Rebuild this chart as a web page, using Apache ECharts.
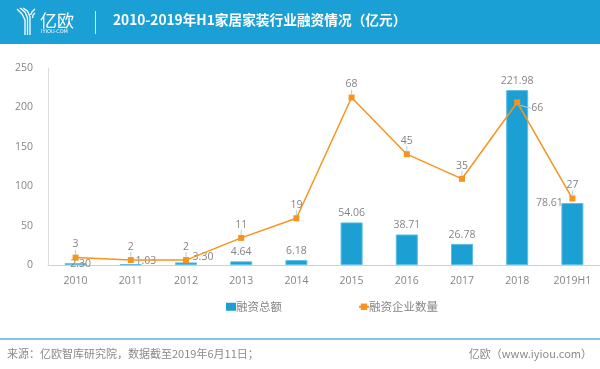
<!DOCTYPE html>
<html>
<head>
<meta charset="utf-8">
<script src="https://cdn.jsdelivr.net/npm/echarts@6/dist/echarts.min.js"></script>
<style>html,body{margin:0;padding:0;background:#fff;}#c{width:600px;height:369px;}</style>
</head>
<body>
<div id="c"></div>
<script>
const categories = ['2010','2011','2012','2013','2014','2015','2016','2017','2018','2019H1'];
const amounts = [2.30, 1.03, 3.30, 4.64, 6.18, 54.06, 38.71, 26.78, 221.98, 78.61];
const counts = [3, 2, 2, 11, 19, 68, 45, 35, 66, 27];
const seriesNames = ['融资总额', '融资企业数量'];
const titleText = '2010-2019年H1家居家装行业融资情况（亿元）';
const sourceText = '来源：亿欧智库研究院，数据截至2019年6月11日；';
const brandText = '亿欧（www.iyiou.com）';

const FONT = "'Open Sans','Noto Sans CJK SC',sans-serif";
const CJK = "'Noto Sans CJK SC',sans-serif";
const GREY = '#858585';

// label placement tweaks (style only)
const barLabelTweak = {0: [5, 10], 1: [15, 6], 2: [17, 4], 9: [-23, 9]};

const barData = amounts.map((v, i) => {
  const t = barLabelTweak[i];
  return t ? {value: v, label: {offset: t}} : v;
});

const chart = echarts.init(document.getElementById('c'));
chart.setOption({
  animation: false,
  textStyle: {fontFamily: FONT},
  grid: {left: 48, right: 0, top: 68, bottom: 104, containLabel: false},
  legend: {
    left: 221, top: 296,
    itemGap: 76, itemWidth: 10, itemHeight: 8,
    textStyle: {color: GREY, fontSize: 11.5, fontFamily: CJK, padding: [0, 0, 0, -5]},
    data: [
      {name: seriesNames[0], icon: 'rect', itemStyle: {borderWidth: 0}},
      {name: seriesNames[1]}
    ]
  },
  xAxis: {
    type: 'category', data: categories,
    axisLine: {lineStyle: {color: '#d0d0d0', width: 1}},
    axisTick: {show: false},
    axisLabel: {color: GREY, fontSize: 10.5, margin: 11}
  },
  yAxis: [
    {
      type: 'value', min: 0, max: 250, interval: 50,
      axisLine: {show: true, lineStyle: {color: '#dcdcdc'}},
      axisTick: {show: false},
      splitLine: {show: false},
      axisLabel: {color: GREY, fontSize: 10.5, margin: 15}
    },
    {
      type: 'value', min: 0, max: 80, show: false, splitLine: {show: false}
    }
  ],
  series: [
    {
      name: seriesNames[0], type: 'bar', data: barData, barWidth: 22,
      itemStyle: {color: '#1c9fd3', borderColor: '#5cbde8', borderWidth: 1},
      label: {show: true, position: 'top', distance: 4, color: GREY, fontSize: 10.5,
        formatter: p => Number(p.value).toFixed(2)}
    },
    {
      name: seriesNames[1], type: 'line', yAxisIndex: 1, data: counts,
      symbol: 'rect', symbolSize: 6,
      lineStyle: {color: '#f7941e', width: 1.5},
      itemStyle: {color: '#f7941e'},
      label: {show: true, position: 'top', distance: 5, color: GREY, fontSize: 10.5},
      labelLine: {show: true, lineStyle: {color: '#a9cfe3', width: 1}},
      labelLayout: p => p.dataIndex === 8 ? {dx: 20, dy: 19} : {},
      z: 3
    }
  ],
  graphic: [
    {type: 'rect', left: 0, top: 0, shape: {width: 600, height: 44}, style: {fill: '#1ba0d6'}, z: -1},
    // logo Y mark
    {type: 'polyline', shape: {points: [[17, 9], [22, 14], [25, 20], [25, 35]]}, style: {stroke: '#fff', lineWidth: 1.3, fill: null}},
    {type: 'polyline', shape: {points: [[20, 8], [25, 12], [27.5, 18], [27.5, 35]]}, style: {stroke: '#fff', lineWidth: 1.3, fill: null}},
    {type: 'polyline', shape: {points: [[23, 8], [27.5, 11], [30, 17], [30, 35]]}, style: {stroke: '#fff', lineWidth: 1.3, fill: null}},
    {type: 'polyline', shape: {points: [[35, 9], [32, 12], [30.5, 15]]}, style: {stroke: '#fff', lineWidth: 1.3, fill: null}},
    {type: 'polyline', shape: {points: [[35, 13], [33, 15], [32.5, 18]]}, style: {stroke: '#fff', lineWidth: 1.3, fill: null}},
    {type: 'text', left: 40, top: 12, style: {text: '亿欧', fill: '#fff', font: "17px 'Noto Sans CJK SC'"}},
    {type: 'text', left: 41, top: 29, style: {text: 'IYIOU·COM', fill: '#fff', font: "5px 'DejaVu Sans'"}},
    {type: 'rect', left: 95, top: 11, shape: {width: 1, height: 23}, style: {fill: 'rgba(255,255,255,0.8)'}},
    {type: 'text', left: 113, top: 13, style: {text: titleText, fill: '#fff', font: "bold 13.7px 'Noto Sans CJK SC'"}},
    // footer
    {type: 'rect', left: 0, top: 338, shape: {width: 600, height: 2}, style: {fill: '#80c6e6'}},
    {type: 'text', left: 7, top: 348, style: {text: sourceText, fill: '#8a8a8a', font: "11px 'Noto Sans CJK SC'"}},
    {type: 'text', right: 8, top: 348, style: {text: brandText, fill: '#8a8a8a', font: "11px 'Noto Sans CJK SC'"}}
  ]
});
</script>
</body>
</html>
